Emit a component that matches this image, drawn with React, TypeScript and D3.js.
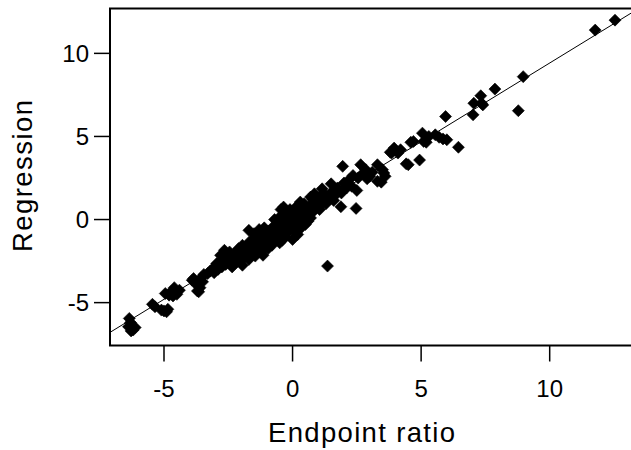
import React from 'react';
import * as d3 from 'd3';

// values: [endpoint ratio, regression]
const points: [number, number][] = [
  [-6.35, -5.95], [-6.3, -6.2], [-6.38, -6.45], [-6.2, -6.65], [-6.12, -6.5], [-6.28, -6.7],
  [-5.45, -5.1], [-5.35, -5.25], [-5.1, -5.45], [-4.9, -5.55], [-5.0, -5.5], [-4.85, -5.4],
  [-4.95, -4.45], [-4.7, -4.3], [-4.5, -4.5], [-4.65, -4.6], [-4.8, -4.55], [-4.4, -4.25], [-4.6, -4.1],
  [-3.9, -3.65], [-3.85, -3.55], [-3.7, -4.3], [-3.65, -4.35], [-3.75, -3.9], [-3.55, -3.5], [-3.5, -3.75], [-3.6, -4.1], [-3.45, -3.3],
  [-3.3, -3.25], [-3.1, -2.95], [-3.2, -3.1], [-3.05, -3.2], [-2.95, -2.65], [-2.8, -2.15], [-2.85, -2.6], [-2.7, -2.45], [-2.9, -3.0], [-2.75, -2.85], [-2.6, -2.7],
  [-2.65, -1.85], [-2.5, -2.3], [-2.4, -2.55], [-2.3, -2.2], [-2.2, -1.95], [-2.05, -2.55], [-2.0, -2.1], [-2.1, -1.75], [-1.95, -1.55], [-1.85, -2.2], [-2.25, -2.65], [-1.9, -1.85],
  [-2.45, -1.95], [-2.15, -2.35], [-1.75, -1.95], [-1.7, -2.4], [-2.35, -2.85], [-1.95, -2.75],
  [-1.8, -1.6], [-1.7, -0.65], [-1.65, -1.3], [-1.6, -1.85], [-1.5, -1.4], [-1.45, -1.1], [-1.4, -0.9], [-1.3, -1.6], [-1.25, -1.3], [-1.2, -0.8], [-1.15, -2.15], [-1.1, -1.2], [-1.05, -0.95], [-1.55, -1.65], [-1.35, -1.95],
  [-1.5, -0.85], [-1.3, -0.6], [-1.2, -1.9], [-0.95, -1.75], [-1.45, -2.2], [-1.1, -0.5],
  [-1.0, -1.45], [-0.95, -0.7], [-0.9, -1.1], [-0.85, -1.15], [-0.8, -0.5], [-0.75, -0.85], [-0.7, -1.3], [-0.65, -0.6], [-0.6, -0.3], [-0.55, -0.9], [-0.5, -0.55], [-0.45, 0.6], [-0.4, -0.2], [-0.35, 0.75], [-0.3, -0.7], [-0.25, -0.35], [-0.2, 0.1], [-0.15, -0.15], [-0.1, -0.5], [-0.05, 0.2], [0.0, -0.1], [0.05, -0.6], [0.05, 0.3], [0.1, 0.0], [0.15, -0.35], [0.2, 0.45], [0.25, 0.05], [0.3, 1.05], [0.35, -0.2], [0.4, 0.4], [0.45, 0.95], [0.5, 0.2], [0.55, 0.6], [0.6, -0.1], [0.65, 0.8], [0.7, 1.35], [0.75, 0.4], [0.8, 1.2], [0.85, 1.55], [0.9, 0.7], [0.95, 1.0], [-0.6, -1.0], [-0.2, -0.8], [0.2, -0.9], [0.0, -1.2], [-0.4, -1.25],
  [-0.7, 0.0], [-0.5, 0.15], [-0.25, 0.4], [-0.1, 0.6], [0.1, 0.7], [0.35, 0.6], [-0.8, -1.55], [-0.5, -1.4], [-0.3, -1.05], [0.3, -0.55], [0.5, -0.3], [0.7, 0.1],
  [1.0, 1.3], [1.1, 0.9], [1.2, 1.6], [1.25, 1.2], [1.36, -2.8], [1.4, 1.4], [1.5, 2.15], [1.55, 1.7], [1.65, 1.45], [1.75, 1.9], [1.88, 0.77], [1.95, 3.2], [1.9, 1.6], [2.0, 2.2], [2.1, 1.9], [2.2, 2.4], [2.3, 2.0], [2.47, 0.67], [2.5, 1.75], [2.55, 2.5], [2.65, 3.3], [2.75, 2.8], [2.85, 3.0], [3.0, 2.6], [3.1, 2.85], [3.3, 2.3], [3.3, 3.3], [3.45, 2.25], [3.55, 2.8], [3.6, 2.6],
  [1.05, 0.6], [1.3, 0.95], [1.6, 1.15], [1.15, 1.85], [2.35, 2.65], [2.9, 2.45],
  [3.8, 4.05], [3.85, 4.0], [3.95, 4.3], [4.2, 4.2], [4.1, 4.0], [3.5, 3.0], [4.42, 3.35], [4.5, 3.3], [4.6, 4.65], [4.7, 4.7], [4.94, 3.58], [5.05, 5.2], [5.1, 4.7], [5.2, 4.65], [5.3, 5.0], [5.55, 5.1], [5.7, 4.95], [5.85, 4.85], [6.0, 4.8], [6.45, 4.35], [5.95, 6.2],
  [7.02, 6.3], [7.05, 7.0], [7.35, 7.0], [7.32, 7.45], [7.4, 6.9], [7.87, 7.85], [8.78, 6.55], [8.97, 8.6], [11.77, 11.4], [12.54, 12.0],
];

const xTicks = [-5, 0, 5, 10];
const yTicks = [-5, 0, 5, 10];

// fitted line: regression = slope * ratio + intercept
const fitSlope = 0.948;
const fitIntercept = -0.06;

const width = 631;
const height = 450;
const margin = { top: 8.5, right: -2, bottom: 104.5, left: 110 };

// diamond marker, size = area
const diamond = {
  draw(ctx: any, size: number) {
    const r = Math.sqrt(size / 2);
    ctx.moveTo(0, -r);
    ctx.lineTo(r, 0);
    ctx.lineTo(0, r);
    ctx.lineTo(-r, 0);
    ctx.closePath();
  },
};

const App = () => {
  const x = d3.scaleLinear().domain([-7.1, 13.24]).range([margin.left, width - margin.right]);
  const y = d3.scaleLinear().domain([-7.58, 12.7]).range([height - margin.bottom, margin.top]);

  const marker = d3.symbol().type(diamond as any).size(2 * 6 * 6)() as string;

  const [x0, x1] = x.domain();
  const fitLine = d3.line<number>()
    .x(d => x(d))
    .y(d => y(fitSlope * d + fitIntercept))([x0, x1]) as string;

  const font = "'Liberation Sans', Arial, sans-serif";

  return (
    <svg width={width} height={height} style={{ position: 'absolute', left: 0, top: 0, background: '#fff' }}>
      <defs>
        <clipPath id="plot">
          <rect x={x.range()[0]} y={y.range()[1]} width={x.range()[1] - x.range()[0]} height={y.range()[0] - y.range()[1]} />
        </clipPath>
      </defs>

      <g clipPath="url(#plot)">
        <path d={fitLine} fill="none" stroke="#000" strokeWidth={1} />
        {points.map((p, i) => (
          <path key={i} d={marker} transform={`translate(${x(p[0])},${y(p[1])})`} fill="#000" stroke="#000" strokeWidth={0.6} strokeLinejoin="round" />
        ))}
      </g>

      {/* frame */}
      <rect
        x={x.range()[0]}
        y={y.range()[1]}
        width={x.range()[1] - x.range()[0]}
        height={y.range()[0] - y.range()[1]}
        fill="none"
        stroke="#000"
        strokeWidth={2}
      />

      {/* x axis */}
      {xTicks.map(t => (
        <g key={t}>
          <line x1={x(t)} x2={x(t)} y1={y.range()[0]} y2={y.range()[0] + 16} stroke="#000" strokeWidth={1.5} />
          <text x={x(t)} y={397} textAnchor="middle" fontSize={24} fontFamily={font}>{t}</text>
        </g>
      ))}

      {/* y axis */}
      {yTicks.map(t => (
        <g key={t}>
          <line x1={x.range()[0] - 16} x2={x.range()[0]} y1={y(t)} y2={y(t)} stroke="#000" strokeWidth={1.5} />
          <text x={89} y={y(t) + 8.5} textAnchor="end" fontSize={24} fontFamily={font}>{t}</text>
        </g>
      ))}

      <text x={361.5} y={442} textAnchor="middle" fontSize={27.5} fontFamily={font}
        textLength={187} lengthAdjust="spacing">Endpoint ratio</text>
      <text transform="translate(32,176) rotate(-90)" textAnchor="middle" fontSize={27.5} fontFamily={font}
        textLength={152} lengthAdjust="spacing">Regression</text>
    </svg>
  );
};

export default App;
